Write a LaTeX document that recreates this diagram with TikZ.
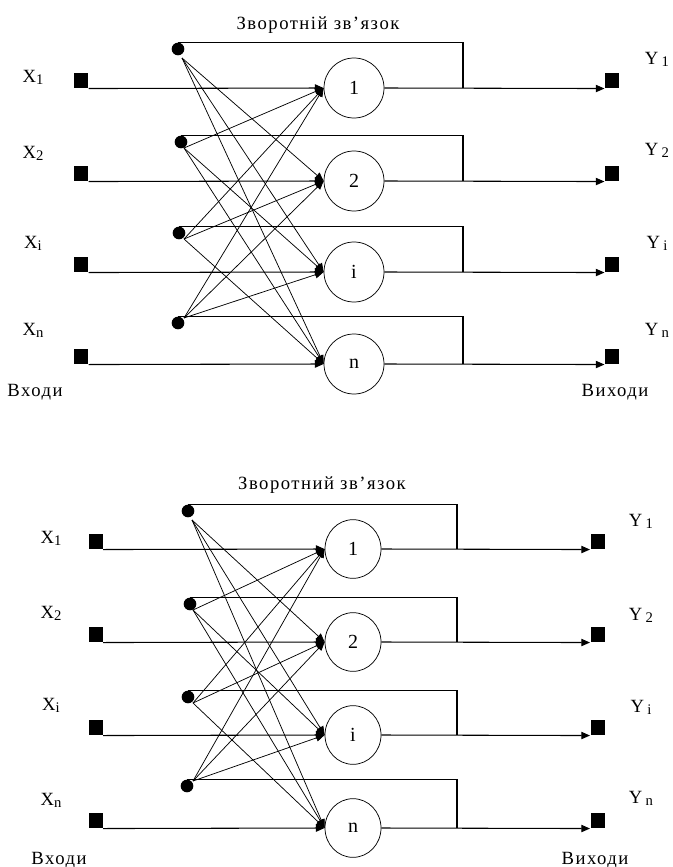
\documentclass[tikz,border=0pt]{standalone}
\usepackage{fontspec}
\setmainfont{Liberation Serif}[LetterSpace=8]
\usetikzlibrary{arrows.meta,shapes.geometric}
\newcommand\sublbl[2]{#1\raisebox{-1.5pt}{\fontsize{11}{11}\selectfont #2}}
\newcommand\ysublbl[2]{#1\hspace{2.5pt}\raisebox{-1.5pt}{\fontsize{11}{11}\selectfont #2}}
\begin{document}
\begin{tikzpicture}[x=0.75pt,y=-0.75pt, line width=0.8pt,
  insq/.style={fill=black, minimum width=10.5pt, minimum height=11.25pt, inner sep=0pt},
  neuronT/.style={ellipse, draw, line width=0.55pt, inner sep=0pt, minimum width=45pt, minimum height=45pt, font=\fontsize{15}{15}\selectfont},
  neuronB/.style={ellipse, draw, line width=0.55pt, inner sep=0pt, minimum width=42pt, minimum height=44pt, font=\fontsize{15}{15}\selectfont},
  fbdot/.style={circle, fill=black, minimum size=9.5pt, inner sep=0pt},
  arr/.style={-{Triangle[length=6.5pt,width=5.5pt]}},
  cross/.style={arr, line width=0.55pt},
  lbl/.style={font=\fontsize{14}{16}\selectfont, inner sep=0pt}
]
\useasboundingbox (0,0) rectangle (673,867);

% ---------- top diagram ----------
\node[lbl] (T-title) at (318,25) {Зворотній зв'язок};
\foreach \k/\lab/\ry/\dx/\dy/\sx/\sy/\xly/\yly in
  {1/1/88/178/49/4/9/77/59, 2/2/181/181/142/3/6/153/150,
   3/i/272/179/233/5/6/243/243, 4/n/364/178/323/6/-5/330/330}{
  \node[insq] (T-in-\k) at (81,{\ry-7.5}) {};
  \node[neuronT] (T-n-\k) at (354,\ry) {\lab};
  \node[insq] (T-out-\k) at (612,{\ry-7.5}) {};
  \node[fbdot] (T-d-\k) at (\dx,\dy) {};
  \coordinate (T-s-\k) at ({\dx+\sx},{\dy+\sy});
  \coordinate (T-j-\k) at (463,\ry);
  \draw[arr] (T-in-\k.south east) -- (T-n-\k.west);
  \draw[arr] (T-n-\k.east) -- (T-out-\k.south west);
  \draw (T-d-\k.north) -| (T-j-\k);
  \node[lbl] (T-x-\k) at (33,\xly) {\sublbl{X}{\lab}};
  \node[lbl] (T-y-\k) at (657,\yly) {\ysublbl{Y}{\lab}};
}
\foreach \k in {1,...,4}{\foreach \j in {1,...,4}{%
  \ifnum\k=\j\else\draw[cross] (T-s-\k) -- (T-n-\j.west);\fi}}
\node[lbl] (T-inlbl) at (35,392) {Входи};
\node[lbl] (T-outlbl) at (615,392) {Виходи};

% ---------- bottom diagram ----------
\node[lbl] (B-title) at (322,485) {Зворотний зв'язок};
\foreach \k/\lab/\ry/\dx/\dy/\sx/\sy/\xly/\yly in
  {1/1/549/188/511/4/9/538/521, 2/2/642/190/604/3/6/613/615,
   3/i/735/188/697/5/6/705/707, 4/n/828/187/786/6/-5/800/798}{
  \node[insq] (B-in-\k) at (95.5,{\ry-7.5}) {};
  \node[neuronB] (B-n-\k) at (353,\ry) {\lab};
  \node[insq] (B-out-\k) at (597.5,{\ry-7.5}) {};
  \node[fbdot] (B-d-\k) at (\dx,\dy) {};
  \coordinate (B-s-\k) at ({\dx+\sx},{\dy+\sy});
  \coordinate (B-j-\k) at (457,\ry);
  \draw[arr] (B-in-\k.south east) -- (B-n-\k.west);
  \draw[arr] (B-n-\k.east) -- (B-out-\k.south west);
  \draw (B-d-\k.north) -| (B-j-\k);
  \node[lbl] (B-x-\k) at (51,\xly) {\sublbl{X}{\lab}};
  \node[lbl] (B-y-\k) at (641,\yly) {\ysublbl{Y}{\lab}};
}
\foreach \k in {1,...,4}{\foreach \j in {1,...,4}{%
  \ifnum\k=\j\else\draw[cross] (B-s-\k) -- (B-n-\j.west);\fi}}
\node[lbl] (B-inlbl) at (59,860) {Входи};
\node[lbl] (B-outlbl) at (595,860) {Виходи};
\end{tikzpicture}
\end{document}
